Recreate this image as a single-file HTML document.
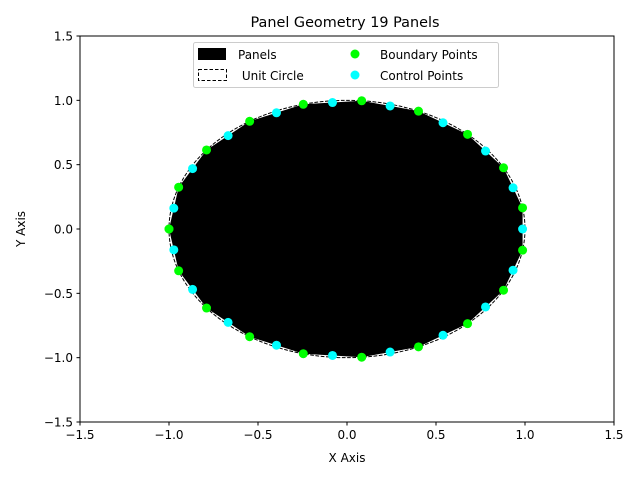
<!DOCTYPE html>
<html><head><meta charset="utf-8"><style>
body{margin:0;background:#fff}
svg{display:block;font-family:"DejaVu Sans","Liberation Sans",sans-serif}
</style></head><body>
<svg id="chart" width="640" height="480" viewBox="0 0 640 480">
<rect width="640" height="480" fill="#fff"/>
<text x="345" y="27" text-anchor="middle" font-size="14.4">Panel Geometry 19 Panels</text>
<g id="plot"></g>
<rect x="80" y="36" width="534" height="386" fill="none" stroke="#000" stroke-width="1"/>
<g id="ticks" font-size="12"></g>
<text x="347" y="462" text-anchor="middle" font-size="12">X Axis</text>
<text x="0" y="0" transform="translate(25,229) rotate(-90)" text-anchor="middle" font-size="12">Y Axis</text>
<g>
<rect x="193.5" y="42.5" width="305" height="45" rx="2" fill="#fff" fill-opacity="0.8" stroke="#ccc"/>
<rect x="198" y="48" width="28" height="12" fill="#000"/>
<text x="238" y="59" font-size="12">Panels</text>
<rect x="198.5" y="69.5" width="28" height="11" fill="none" stroke="#000" stroke-dasharray="3.5,2"/>
<text x="238" y="80" font-size="12" xml:space="preserve"> Unit Circle</text>
<circle cx="355" cy="54" r="4.5" fill="#00ff00"/>
<text x="380" y="59" font-size="12">Boundary Points</text>
<circle cx="355" cy="75" r="4.5" fill="#00ffff"/>
<text x="380" y="80" font-size="12">Control Points</text>
</g>
</svg>
<script>
const boundaryX=[-1,-0.9458,-0.7891,-0.5469,-0.2455,0.0826,0.4017,0.6773,0.8795,0.9864,0.9864,0.8795,0.6773,0.4017,0.0826,-0.2455,-0.5469,-0.7891,-0.9458,-1];
const boundaryY=[0,0.3247,0.6142,0.8372,0.9694,0.9966,0.9158,0.7357,0.4759,0.1646,-0.1646,-0.4759,-0.7357,-0.9158,-0.9966,-0.9694,-0.8372,-0.6142,-0.3247,0];
const controlX=[-0.973,-0.8675,-0.668,-0.3962,-0.0815,0.2421,0.5394,0.7783,0.9329,0.9864,0.9329,0.7783,0.5394,0.2421,-0.0815,-0.3962,-0.668,-0.8675,-0.973];
const controlY=[0.162,0.4694,0.7257,0.9033,0.983,0.9562,0.8258,0.6058,0.3203,0,-0.3203,-0.6058,-0.8258,-0.9562,-0.983,-0.9033,-0.7257,-0.4694,-0.162];
const xTicks=["−1.5","−1.0","−0.5","0.0","0.5","1.0","1.5"];
const yTicks=["−1.5","−1.0","−0.5","0.0","0.5","1.0","1.5"];
const xTickVals=[-1.5,-1,-0.5,0,0.5,1,1.5];
const yTickVals=[-1.5,-1,-0.5,0,0.5,1,1.5];
const NS="http://www.w3.org/2000/svg";
const X0=80,X1=614,Y0=422,Y1=36;
function sx(v){return X0+(v+1.5)/3*(X1-X0);}
function sy(v){return Y0-(v+1.5)/3*(Y0-Y1);}
const plot=document.getElementById('plot');
function mk(tag,attrs,parent){const e=document.createElementNS(NS,tag);for(const k in attrs)e.setAttribute(k,attrs[k]);parent.appendChild(e);return e;}
// panels polygon
const pts=boundaryX.map((x,i)=>sx(x)+','+sy(boundaryY[i])).join(' ');
const poly=mk('polygon',{points:pts,fill:'#000'},plot);


// unit circle
const circ=mk('ellipse',{cx:sx(0),cy:sy(0),rx:sx(1)-sx(0),ry:sy(0)-sy(1),fill:'none',stroke:'#000','stroke-dasharray':'3.7,1.6'},plot);


boundaryX.forEach((x,i)=>{
  const c=mk('circle',{cx:sx(x),cy:sy(boundaryY[i]),r:4.5,fill:'#00ff00'},plot);
  
  
});
controlX.forEach((x,i)=>{
  const c=mk('circle',{cx:sx(x),cy:sy(controlY[i]),r:4.5,fill:'#00ffff'},plot);
  
  
});
const tk=document.getElementById('ticks');
xTickVals.forEach((v,i)=>{
  const l=mk('line',{x1:sx(v),x2:sx(v),y1:Y0,y2:Y0+3.5,stroke:'#000'},tk);
  
  
  const t=mk('text',{x:sx(v),y:Y0+17,'text-anchor':'middle'},tk);
  t.textContent=xTicks[i];
  
  
});
yTickVals.forEach((v,i)=>{
  const l=mk('line',{x1:X0-3.5,x2:X0,y1:sy(v),y2:sy(v),stroke:'#000'},tk);
  
  
  const t=mk('text',{x:X0-7,y:sy(v)+4.5,'text-anchor':'end'},tk);
  t.textContent=yTicks[i];
  
  
});
</script>
</body></html>
